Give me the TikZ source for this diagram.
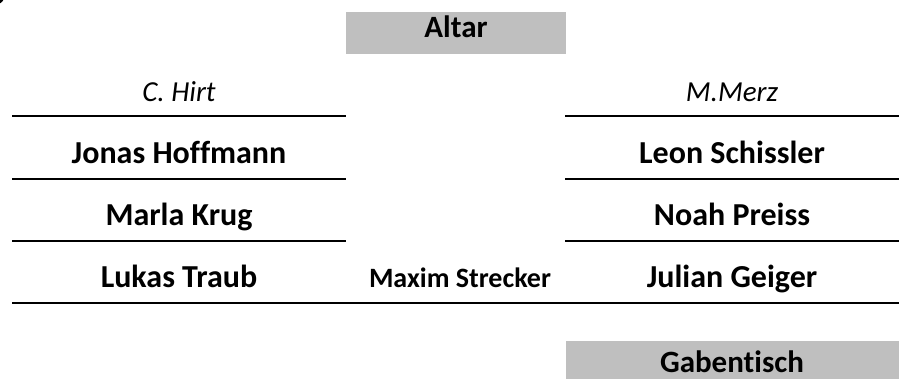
\documentclass[tikz,border=0pt]{standalone}
\usepackage{fontspec}
\setmainfont{Carlito}[Ligatures={NoCommon}]
\definecolor{tischgrau}{RGB}{191,191,191}

\begin{document}
\begin{tikzpicture}[x=1pt,y=-1pt,
    sitz/.style={font=\fontsize{32}{36}\selectfont\bfseries, anchor=base},
    tischtext/.style={font=\fontsize{31}{36}\selectfont\bfseries, anchor=base},
    klein/.style={font=\fontsize{28}{32}\selectfont\bfseries, anchor=base},
    priester/.style={font=\fontsize{29}{33}\selectfont\itshape, anchor=base},
    bank/.style={line width=2.5pt},
    tisch/.style={fill=tischgrau}]
    \useasboundingbox (0,0) rectangle (905,379);

    % Ecke oben links
    \fill (-3,-3) circle (7);

    % Altar und Gabentisch
    \fill[tisch] (346,12) rectangle (566,54);
    \node[tischtext] (altar) at (456,38) {Altar};
    \fill[tisch] (566,341) rectangle (899,379);
    \node[tischtext] (gaben) at (732,372) {Gabentisch};

    % Linke Seite
    \node[priester] (hirt) at (179,102) {C. Hirt};
    \draw[bank] (12,116) -- (346,116);
    \node[sitz] (jonas) at (179,164) {Jonas Hoffmann};
    \draw[bank] (12,179) -- (346,179);
    \node[sitz] (marla) at (179,226) {Marla Krug};
    \draw[bank] (12,241) -- (346,241);
    \node[sitz] (lukas) at (179,288) {Lukas Traub};

    % Rechte Seite
    \node[priester] (merz) at (732,102) {M.Merz};
    \draw[bank] (565,116) -- (899,116);
    \node[sitz] (leon) at (732,164) {Leon Schissler};
    \draw[bank] (565,179) -- (899,179);
    \node[sitz] (noah) at (732,226) {Noah Preiss};
    \draw[bank] (565,241) -- (899,241);
    \node[sitz] (julian) at (732,288) {Julian Geiger};

    % Mitte
    \node[klein] (maxim) at (460,288) {Maxim Strecker};
    \draw[bank] (12,303) -- (899,303);
\end{tikzpicture}
\end{document}
